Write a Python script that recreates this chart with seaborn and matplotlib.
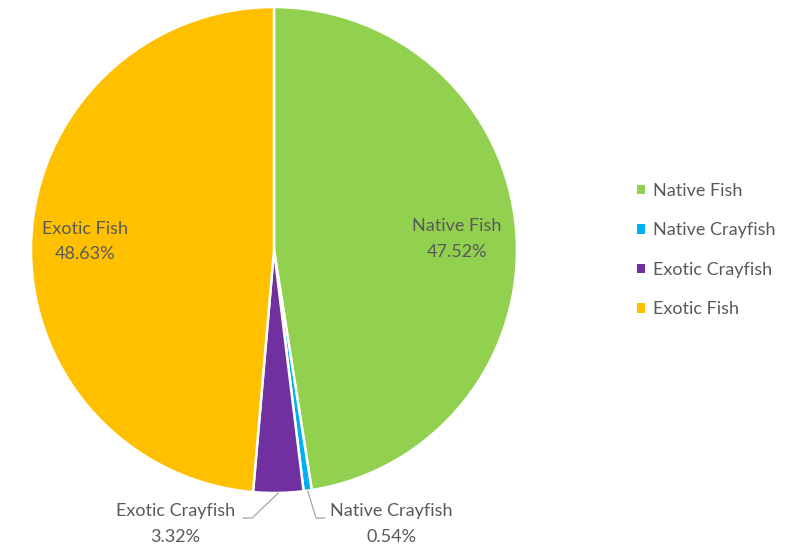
import numpy as np
import seaborn as sns
import matplotlib
matplotlib.use('Agg')
import matplotlib.pyplot as plt
from matplotlib.patches import Patch

categories = ['Native Fish', 'Native Crayfish', 'Exotic Crayfish', 'Exotic Fish']
shares = [47.52, 0.54, 3.32, 48.63]
colors = ['#92D050', '#00B0F0', '#7030A0', '#FFC000']

sns.set_theme(style='white')
plt.rcParams['font.family'] = ['Lato', 'DejaVu Sans']
txt = '#595959'

fig = plt.figure(figsize=(7.87, 5.52), dpi=100)
ax = fig.add_axes([0.0394, 0.1069, 0.6175, 0.8804])
wedges, _ = ax.pie(shares, colors=colors, startangle=90, counterclock=False,
                   wedgeprops=dict(edgecolor='white', linewidth=1.8))
ax.set_xlim(-1, 1)
ax.set_ylim(-1, 1)
ax.set_aspect('equal')
ax.axis('off')

# label positions in data units
label_pos = [(0.752, 0.045), (0.482, -1.128), (-0.407, -1.128), (-0.778, 0.035)]
for name, val, (x, y) in zip(categories, shares, label_pos):
    ax.text(x, y, f'{name}\n{val:.2f}%', ha='center', va='center', fontsize=13,
            color=txt, linespacing=1.75, clip_on=False)

# leader lines for the small slices
angles = []
start = 90.0
for v in shares:
    span = v / sum(shares) * 360
    angles.append(np.radians(start - span / 2))
    start -= span
for idx, (ex, ey), endx in [(2, (-0.09, -1.103), -0.128), (1, (0.173, -1.103), 0.21)]:
    a = angles[idx]
    ax.plot([np.cos(a), ex, endx], [np.sin(a), ey, ey], color='#A6A6A6', lw=0.9,
            clip_on=False)

handles = [Patch(facecolor=c, edgecolor='none') for c in colors]
leg = fig.legend(handles, categories, loc='center left', bbox_to_anchor=(0.809, 0.547),
                 frameon=False, fontsize=13, handlelength=0.45, handleheight=0.45,
                 handletextpad=0.45, labelspacing=1.3, labelcolor=txt,
                 borderpad=0, borderaxespad=0)

fig.savefig('out.png', dpi=100)
